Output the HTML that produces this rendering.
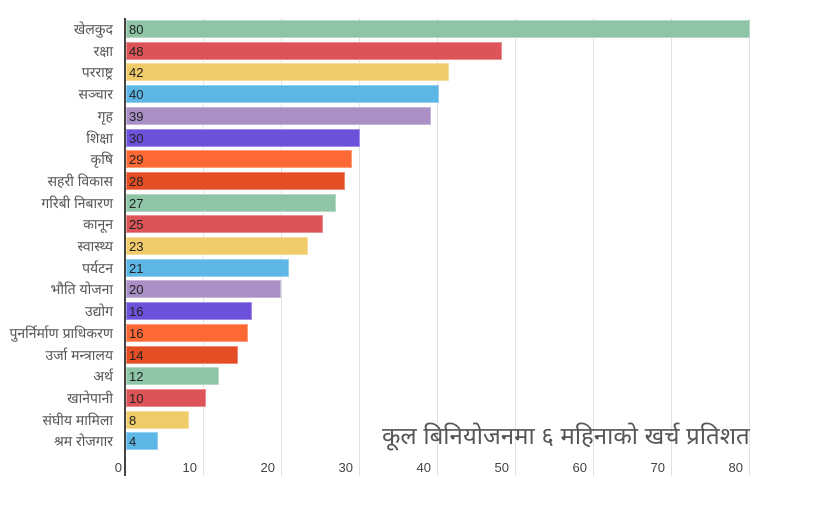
<!DOCTYPE html>
<html><head><meta charset="utf-8"><style>
html,body{margin:0;width:825px;height:506px;background:#fff;position:relative;overflow:hidden;font-family:"Liberation Sans","DejaVu Sans",sans-serif}
.g{position:absolute;top:18px;height:458px;width:1px;background:#e2e2e2}
.b{position:absolute;left:126px;height:18px;box-sizing:border-box;border:1px solid rgba(255,255,255,.35)}
.v{position:absolute;left:129px;font-size:13px;color:#222;line-height:19px}
.l{position:absolute;right:712px;font-size:14px;color:#555;line-height:20px;white-space:nowrap}
.t{position:absolute;top:460px;font-size:13px;color:#444;width:30px;text-align:right;line-height:15px}
</style></head><body>
<div class="g" style="left:203px"></div><div class="g" style="left:281px"></div><div class="g" style="left:359px"></div><div class="g" style="left:437px"></div><div class="g" style="left:515px"></div><div class="g" style="left:593px"></div><div class="g" style="left:671px"></div><div class="g" style="left:749px"></div>
<div style="position:absolute;left:124px;top:18px;width:2px;height:458px;background:#444"></div>
<div id="c"></div>
<div class="t" style="left:92px">0</div><div class="t" style="left:167px">10</div><div class="t" style="left:245px">20</div><div class="t" style="left:323px">30</div><div class="t" style="left:401px">40</div><div class="t" style="left:479px">50</div><div class="t" style="left:557px">60</div><div class="t" style="left:635px">70</div><div class="t" style="left:713px">80</div>
<div style="position:absolute;left:382px;top:421px;font-size:24px;color:#555;white-space:nowrap;line-height:32px">कूल बिनियोजनमा ६ महिनाको खर्च प्रतिशत</div>
<script>
var d=[["खेलकुद",80,750,"#8ec5a6"],["रक्षा",48,502,"#dc5457"],["परराष्ट्र",42,449,"#f0cb6a"],["सञ्चार",40,439,"#5db7e6"],["गृह",39,431,"#a98fc6"],["शिक्षा",30,360,"#6d51db"],["कृषि",29,352,"#fd6935"],["सहरी विकास",28,345,"#e54e25"],["गरिबी निबारण",27,336,"#8ec5a6"],["कानून",25,323,"#dc5457"],["स्वास्थ्य",23,308,"#f0cb6a"],["पर्यटन",21,289,"#5db7e6"],["भौति योजना",20,281,"#a98fc6"],["उद्योग",16,252,"#6d51db"],["पुनर्निर्माण प्राधिकरण",16,248,"#fd6935"],["उर्जा मन्त्रालय",14,238,"#e54e25"],["अर्थ",12,219,"#8ec5a6"],["खानेपानी",10,206,"#dc5457"],["संघीय मामिला",8,189,"#f0cb6a"],["श्रम रोजगार",4,158,"#5db7e6"]];
var h="";d.forEach(function(r,i){var y=20+i*21.7;
h+='<div class="b" style="top:'+y+'px;width:'+(r[2]-126)+'px;background:'+r[3]+'"></div><div class="v" style="top:'+y+'px">'+r[1]+'</div><div class="l" style="top:'+(y-1)+'px">'+r[0]+'</div>';});
document.getElementById("c").innerHTML=h;
</script>
</body></html>
